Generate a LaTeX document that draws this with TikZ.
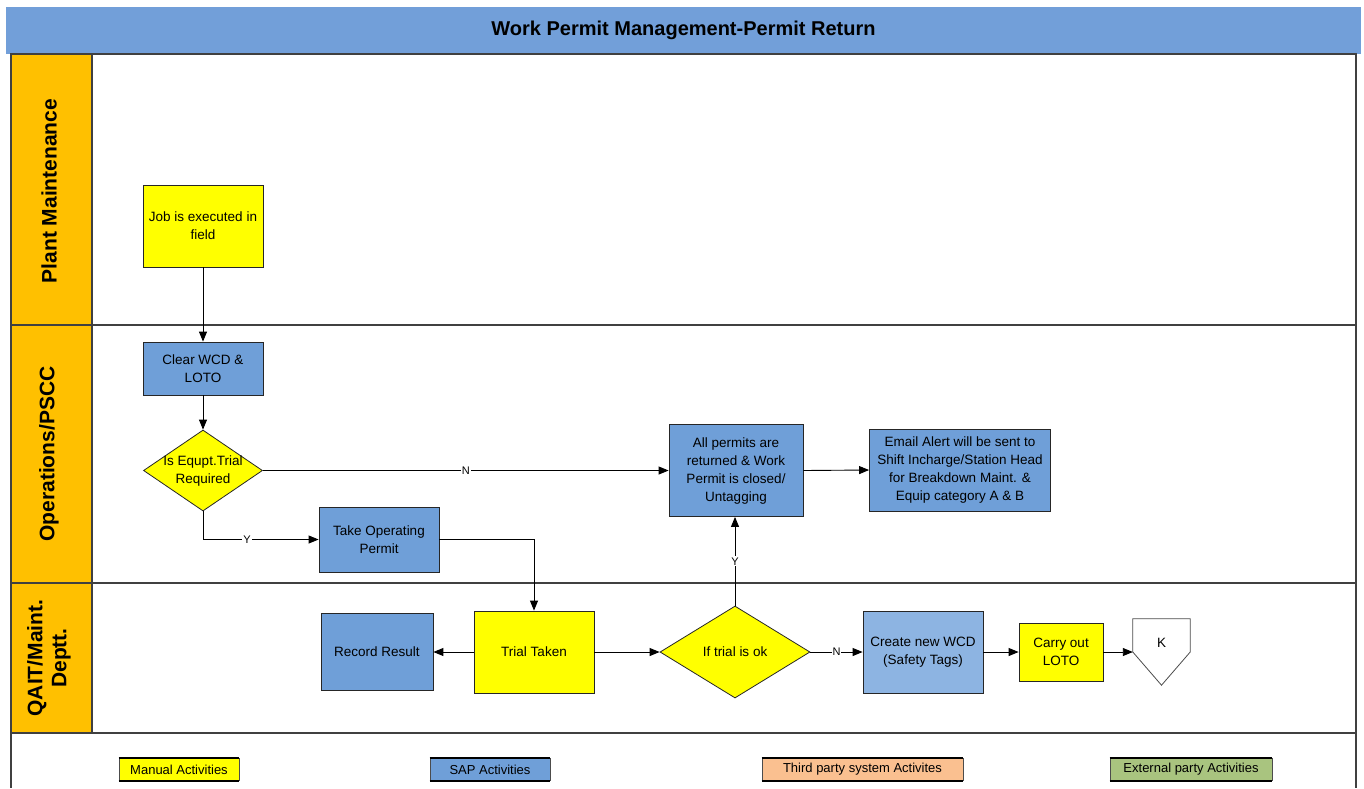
\documentclass[tikz,border=0pt]{standalone}
\usepackage{fontspec}
\setmainfont{Liberation Sans}
\usetikzlibrary{arrows.meta,shapes.geometric}
\definecolor{titleB}{HTML}{729FD9}
\definecolor{sapB}{HTML}{6F9FD8}
\definecolor{lightB}{HTML}{8DB4E2}
\definecolor{manualY}{HTML}{FFFF00}
\definecolor{laneO}{HTML}{FFC000}
\definecolor{thirdO}{HTML}{FAC090}
\definecolor{extG}{HTML}{A9C47F}
\definecolor{frameC}{HTML}{404040}
\newcommand{\nodefont}{\fontsize{13.5}{18}\selectfont}
\tikzset{
  box/.style={draw=black!85, line width=0.8pt, inner sep=0pt, align=center, font=\nodefont},
  manual/.style={box, fill=manualY},
  sapbox/.style={box, fill=sapB},
  decision/.style={diamond, draw=black!85, line width=0.8pt, fill=manualY, inner sep=0pt},
  arr/.style={draw=black, line width=0.9pt, -{Triangle[length=10pt,width=8pt]}},
  lbl/.style={fill=white, inner sep=1pt, font=\fontsize{11}{12}\selectfont},
  lanelbl/.style={rotate=90, align=center, font=\fontsize{21}{24}\selectfont\bfseries},
  legendbox/.style={draw=black!70, line width=0.6pt, inner sep=0pt, minimum height=22, font=\fontsize{13}{14}\selectfont},
}
\begin{document}
\begin{tikzpicture}[x=1pt,y=-1pt]
\useasboundingbox (0,0) rectangle (1364,788);
% title bar
\node[fill=titleB, minimum width=1355, minimum height=47, inner sep=0pt,
      font=\fontsize{20}{24}\selectfont\bfseries] (title) at (683.5,30) {Work Permit Management-Permit Return};
% lanes
\fill[laneO] (11,54) rectangle (92,733);
\draw[frameC, line width=1.3pt] (11,54) rectangle (1356,733);
\draw[frameC, line width=1.3pt] (92,54) -- (92,733);
\draw[frameC, line width=1.3pt] (11,325) -- (1356,325);
\draw[frameC, line width=1.3pt] (11,583) -- (1356,583);
\draw[frameC, line width=1.3pt] (11,733) -- (11,788);
\draw[frameC, line width=1.3pt] (1356,733) -- (1356,788);
\node[lanelbl] (lane1) at (49,191) {Plant Maintenance};
\node[lanelbl] (lane2) at (49,454) {Operations/PSCC};
\node[lanelbl] (lane3) at (49,658) {QAIT/Maint.\\Deptt.};
% nodes
\node[manual, minimum width=120, minimum height=82] (job) at (203,226) {Job is executed in\\field};
\node[sapbox, minimum width=120, minimum height=53] (clear) at (203,368.5) {Clear WCD \&\\LOTO};
\node[decision, minimum width=119, minimum height=81,
      label={[font=\nodefont, align=center]center:Is Equpt.Trial\\Required}] (d1) at (203,470.5) {};
\node[sapbox, minimum width=120, minimum height=65] (takeop) at (379,539.5) {Take Operating\\Permit};
\node[sapbox, minimum width=134, minimum height=92] (allp) at (736,470.5) {All permits are\\returned \& Work\\Permit is closed/\\Untagging};
\node[sapbox, minimum width=181, minimum height=82] (email) at (960,470) {Email Alert will be sent to\\Shift Incharge/Station Head\\for Breakdown Maint. \&\\Equip category A \& B};
\node[sapbox, minimum width=112, minimum height=77] (record) at (377,652) {Record Result};
\node[manual, minimum width=120, minimum height=82] (trial) at (534,652) {Trial Taken};
\node[decision, minimum width=150, minimum height=92,
      label={[font=\nodefont]center:If trial is ok}] (d2) at (735,652) {};
\node[box, fill=lightB, minimum width=120, minimum height=82] (create) at (923,652) {Create new WCD\\(Safety Tags)};
\node[manual, minimum width=84, minimum height=58] (carry) at (1061,652) {Carry out\\LOTO};
\node[inner sep=0pt, minimum width=57, minimum height=66] (K) at (1161.5,652) {};
\draw[black!70, line width=0.8pt, fill=white] (K.north west) -- (K.north east) -- (K.east) -- (K.south) -- (K.west) -- cycle;
\node[font=\nodefont, inner sep=0pt] (Ktext) at ([yshift=9pt]K.center) {K};
% connectors
\draw[arr] (job) -- (clear);
\draw[arr] (clear) -- (d1);
\draw[arr] (d1.east) -- node[lbl]{N} (d1.east -| allp.west);
\draw[arr] (d1.south) |- node[lbl, pos=0.69]{Y} (takeop.west);
\draw[arr] (takeop.east) -| (trial.north);
\draw[arr] (trial.west) -- (record.east);
\draw[arr] (trial.east) -- (d2.west);
\draw[arr] (d2.north) -- node[lbl]{Y} (d2.north |- allp.south);
\draw[arr] (d2.east) -- node[lbl]{N} (create.west);
\draw[arr] (allp.east) -- (email.west);
\draw[arr] (create) -- (carry);
\draw[arr] (carry) -- (K.west);
% legend
\node[legendbox, fill=manualY, minimum width=120] (lm) at (179,769.5) {Manual Activities};
\node[legendbox, fill=sapB, minimum width=120] (ls) at (490,769.5) {SAP Activities};
\node[legendbox, fill=thirdO, minimum width=201] (lt) at (862.5,769.5) {Third party system Activites};
\node[legendbox, fill=extG, minimum width=162] (le) at (1191,769.5) {External party Activities};
\foreach \n in {lm,ls,lt,le}{
  \draw[black, line width=1.8pt] (\n.north west) -- (\n.north east);
  \draw[black, line width=1.8pt] (\n.south west) -- (\n.south east);
}
\end{tikzpicture}
\end{document}
